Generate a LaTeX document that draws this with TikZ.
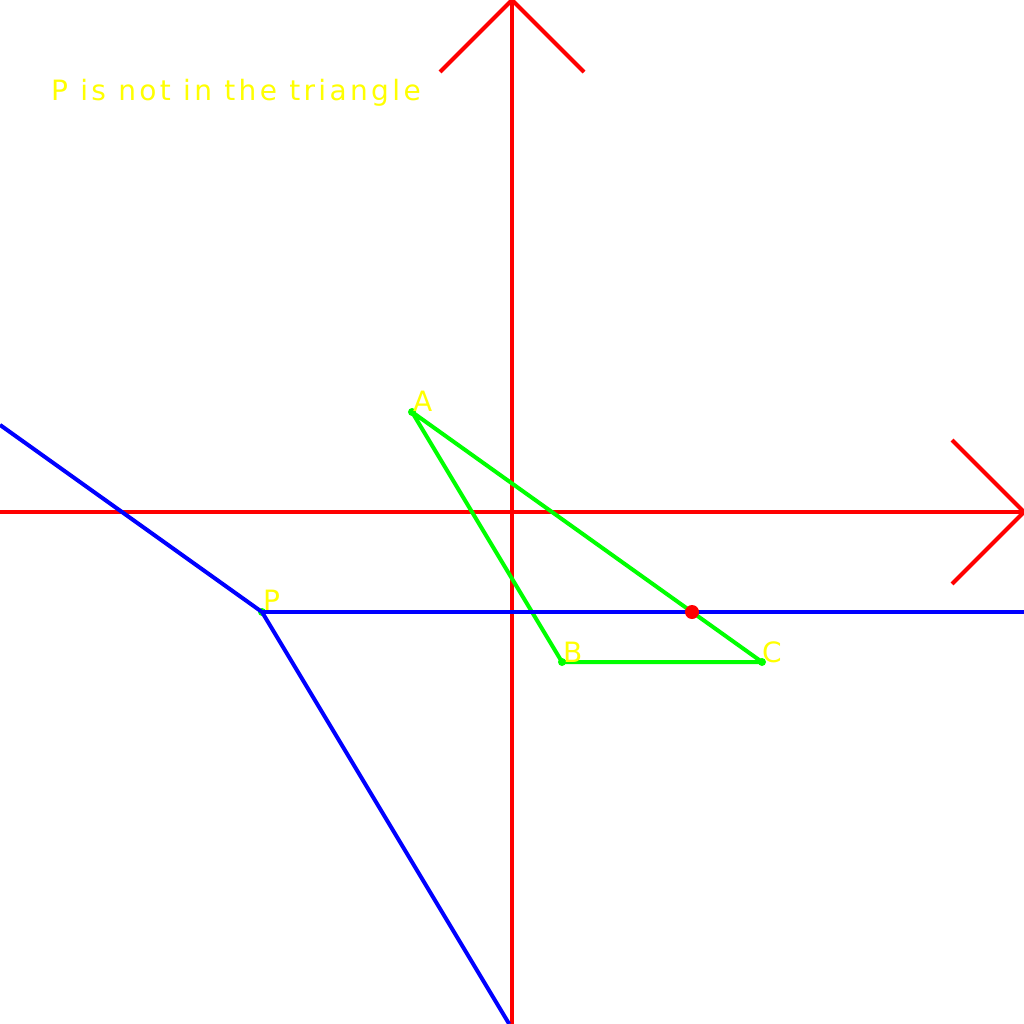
\documentclass[tikz,border=0pt]{standalone}
\usepackage{fontspec}
\setmainfont{DejaVu Sans}
\definecolor{rd}{RGB}{255,0,0}
\definecolor{gr}{RGB}{0,255,0}
\definecolor{bl}{RGB}{0,0,255}
\definecolor{ye}{RGB}{255,255,0}
\begin{document}
\begin{tikzpicture}[x=1pt,y=-1pt,
  axis/.style={draw=rd,line width=4pt},
  tri/.style={draw=gr,line width=4pt},
  par/.style={draw=bl,line width=4pt},
  lbl/.style={text=ye,font=\fontsize{28}{28}\selectfont,inner sep=0pt,anchor=base west},
  vdot/.style={circle,fill=gr,inner sep=0pt,minimum size=8pt}]
\useasboundingbox (0,0) rectangle (1024,1024);
% axes
\coordinate (xl) at (0,512);
\coordinate (xr) at (1024,512);
\coordinate (yt) at (512,0);
\coordinate (yb) at (512,1024);
\coordinate (ya1) at (440,72);
\coordinate (ya2) at (584,72);
\coordinate (xa1) at (952,440);
\coordinate (xa2) at (952,584);
\draw[axis] (xl) -- (xr);
\draw[axis] (yt) -- (yb);
\draw[axis] (ya1) -- (yt) -- (ya2);
\draw[axis] (xa1) -- (xr) -- (xa2);
% points
\coordinate (A) at (412,412);
\coordinate (B) at (562,662);
\coordinate (C) at (762,662);
\coordinate (P) at (262,612);
\coordinate (L) at (0,424.9);
\coordinate (R) at (1024,612);
\coordinate (D) at (509.2,1024);
\coordinate (X) at (692,612);
% triangle
\draw[tri,line join=round] (A) -- (B) -- (C) -- cycle;
\node[vdot] (dA) at (A) {};
\node[vdot] (dB) at (B) {};
\node[vdot] (dC) at (C) {};
\node[vdot] (dP) at (P) {};
% parallels through P
\draw[par] (L) -- (P) -- (D);
\draw[par] (P) -- (R);
\node[circle,fill=rd,inner sep=0pt,minimum size=14pt] (dX) at (X) {};
% labels
\node[lbl] (tA) at (413,411) {A};
\node[lbl] (tB) at (563,662) {B};
\node[lbl] (tC) at (762,662) {C};
\node[lbl] (tP) at (263,610) {P};
\node[lbl,anchor=base west] (title) at (51,101) {\addfontfeature{LetterSpace=12}P is not in the triangle};
\end{tikzpicture}
\end{document}
